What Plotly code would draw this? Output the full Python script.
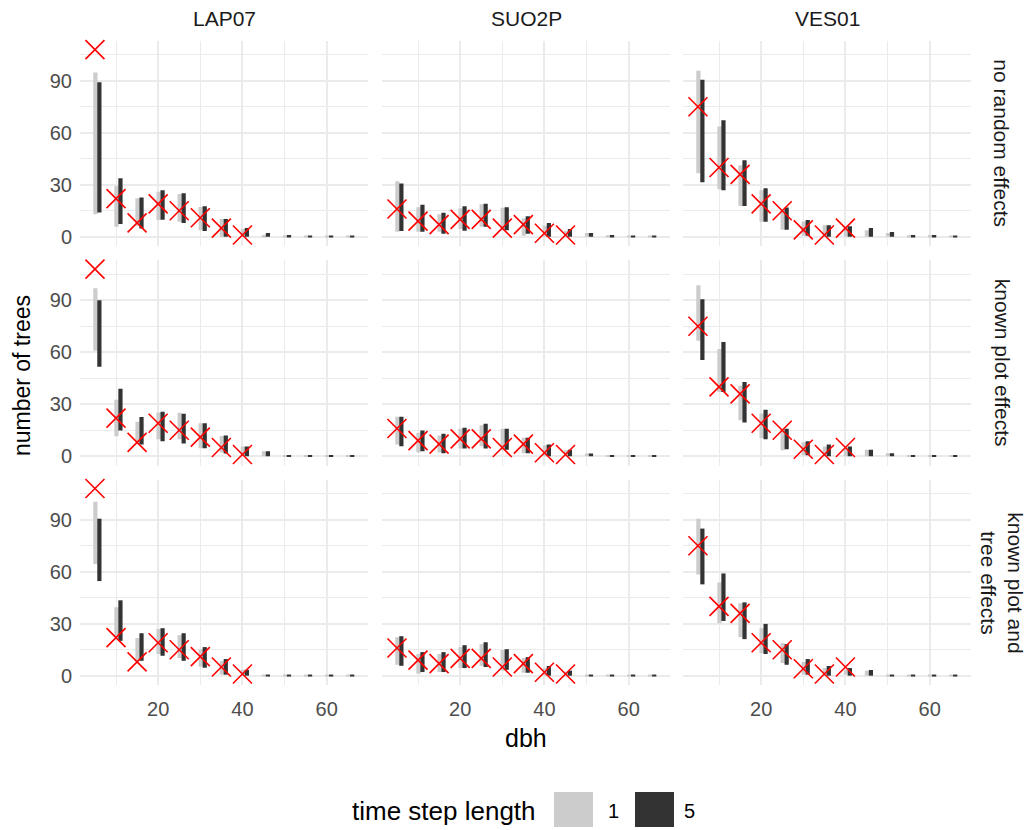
import plotly.graph_objects as go

# ---------------- data ----------------
dbh = [5, 10, 15, 20, 25, 30, 35, 40, 45, 50, 55, 60, 65]
sites = ["LAP07", "SUO2P", "VES01"]
models = ["no random effects", "known plot effects", "known plot and<br>tree effects"]
ts_labels = ["1", "5"]

obs_LAP07 = [108, 22, 8, 19, 15, 11, 5, 1]
obs_SUO2P = [16, 9, 7, 10, 10, 5, 7, 2, 1]
obs_VES01 = [75, 40, 36, 19, 15, 4, 1, 5]

# no random effects
LAP07_none_ts1_hi = [94.8, 29.3, 22.2, 25.9, 24.7, 17.2, 10.2, 4.4, 1.0, 0.6, 0.3, 0.3, 0.3]
LAP07_none_ts1_lo = [13.0, 5.7, 6.3, 9.6, 8.6, 3.8, 0, 0, 0, 0, 0, 0, 0]
LAP07_none_ts5_hi = [89.1, 33.7, 22.6, 26.8, 25.1, 17.6, 10.2, 5.0, 2.1, 1.0, 0.3, 0.2, 0.2]
LAP07_none_ts5_lo = [14.0, 7.3, 4.8, 9.8, 7.9, 3.3, 0, 0, 0, 0, 0, 0, 0]

SUO2P_none_ts1_hi = [32.0, 17.0, 13.0, 16.5, 18.8, 16.7, 10.7, 6.3, 3.4, 2.1, 0.8, 0.3, 0.3]
SUO2P_none_ts1_lo = [2.9, 2.9, 2.9, 4.4, 5.7, 3.8, 0.6, 0, 0, 0, 0, 0, 0]
SUO2P_none_ts5_hi = [30.8, 18.4, 13.8, 17.6, 19.0, 17.0, 11.9, 7.9, 4.4, 2.1, 1.0, 0.2, 0.2]
SUO2P_none_ts5_lo = [3.3, 2.9, 1.7, 3.4, 5.7, 3.8, 1.7, 0, 0, 0, 0, 0, 0]

VES01_none_ts1_hi = [95.8, 63.6, 41.2, 26.8, 16.0, 8.8, 6.7, 6.0, 3.8, 2.1, 0.8, 1.0, 0.3]
VES01_none_ts1_lo = [36.6, 27.4, 17.8, 8.6, 4.0, 0.6, 0, 0, 0, 0, 0, 0, 0]
VES01_none_ts5_hi = [90.6, 67.2, 44.1, 28.0, 16.9, 9.6, 6.7, 6.1, 5.0, 2.7, 1.0, 1.0, 0.2]
VES01_none_ts5_lo = [31.4, 26.8, 17.8, 8.6, 4.0, 0.6, 0, 0, 0, 0, 0, 0, 0]

# known plot effects
LAP07_plot_ts1_hi = [96.9, 32.6, 19.9, 25.3, 25.1, 19.0, 11.7, 5.6, 2.9, 0.6, 0.6, 0.3, 0.6]
LAP07_plot_ts1_lo = [60.9, 11.5, 7.7, 9.8, 9.8, 4.6, 2.1, 0, 0, 0, 0, 0, 0]
LAP07_plot_ts5_hi = [90.0, 38.9, 22.6, 25.7, 24.5, 19.0, 11.9, 5.6, 2.9, 0.6, 0.6, 0.2, 0.6]
LAP07_plot_ts5_lo = [51.7, 14.9, 6.7, 8.6, 7.3, 4.6, 1.5, 0, 0, 0, 0, 0, 0]

SUO2P_plot_ts1_hi = [22.8, 13.6, 11.9, 15.9, 17.8, 15.9, 10.7, 6.3, 3.4, 1.5, 0.4, 0.3, 0.3]
SUO2P_plot_ts1_lo = [6.7, 2.1, 2.1, 4.4, 5.7, 3.4, 1.7, 0, 0, 0, 0, 0, 0]
SUO2P_plot_ts5_hi = [22.8, 14.8, 13.0, 16.5, 18.8, 15.9, 10.7, 6.7, 3.8, 1.5, 0.6, 0.2, 0.2]
SUO2P_plot_ts5_lo = [5.7, 2.9, 1.7, 4.4, 4.4, 3.8, 1.7, 0, 0, 0, 0, 0, 0]

VES01_plot_ts1_hi = [98.7, 61.9, 40.6, 24.7, 15.9, 8.0, 5.6, 4.4, 3.8, 1.7, 0.6, 0.3, 0.3]
VES01_plot_ts1_lo = [66.7, 37.0, 20.7, 10.5, 3.4, 0.6, 0, 0, 0, 0, 0, 0, 0]
VES01_plot_ts5_hi = [90.6, 65.9, 42.9, 26.8, 15.9, 8.6, 6.7, 5.6, 3.8, 1.7, 0.6, 0.2, 0.2]
VES01_plot_ts5_lo = [55.6, 37.0, 19.5, 9.8, 4.0, 0.6, 0, 0, 0, 0, 0, 0, 0]

# known plot and tree effects
LAP07_tree_ts1_hi = [100.4, 39.5, 21.7, 27.0, 23.4, 15.3, 8.4, 3.4, 0.4, 0.2, 0.2, 0.2, 0.2]
LAP07_tree_ts1_lo = [64.4, 22.6, 8.6, 12.5, 10.2, 5.2, 0.6, 0, 0, 0, 0, 0, 0]
LAP07_tree_ts5_hi = [90.6, 43.5, 24.5, 27.4, 24.5, 16.5, 9.6, 3.4, 0.6, 0.2, 0.2, 0.2, 0.2]
LAP07_tree_ts5_lo = [54.6, 20.1, 8.6, 11.5, 8.6, 4.6, 0.6, 0, 0, 0, 0, 0, 0]

SUO2P_tree_ts1_hi = [22.2, 12.5, 12.5, 16.5, 18.2, 14.8, 10.2, 4.4, 2.3, 0.3, 0.2, 0.2, 0.2]
SUO2P_tree_ts1_lo = [6.3, 1.1, 2.1, 4.4, 5.7, 2.9, 1.7, 0, 0, 0, 0, 0, 0]
SUO2P_tree_ts5_hi = [22.8, 13.6, 13.6, 17.6, 19.3, 15.3, 10.7, 5.6, 2.9, 0.6, 0.2, 0.2, 0.2]
SUO2P_tree_ts5_lo = [5.7, 2.1, 2.1, 4.4, 5.0, 3.4, 1.7, 0, 0, 0, 0, 0, 0]

VES01_tree_ts1_hi = [90.6, 53.8, 41.8, 27.4, 18.8, 7.9, 4.4, 3.4, 2.9, 0.3, 0.2, 0.2, 0.2]
VES01_tree_ts1_lo = [58.4, 30.3, 22.2, 13.0, 7.3, 0.6, 0, 0.6, 0, 0, 0, 0, 0]
VES01_tree_ts5_hi = [84.9, 59.0, 42.3, 29.9, 18.2, 9.6, 5.6, 4.4, 3.3, 0.6, 0.2, 0.2, 0.2]
VES01_tree_ts5_lo = [52.7, 31.6, 21.1, 12.5, 6.3, 0.6, 0, 0, 0, 0, 0, 0, 0]

y_ticks = [0, 30, 60, 90]
x_ticks = [20, 40, 60]

# ---------------- assembly ----------------
observed = {"LAP07": obs_LAP07, "SUO2P": obs_SUO2P, "VES01": obs_VES01}
ranges = {
    ("LAP07", 0): (LAP07_none_ts1_lo, LAP07_none_ts1_hi, LAP07_none_ts5_lo, LAP07_none_ts5_hi),
    ("SUO2P", 0): (SUO2P_none_ts1_lo, SUO2P_none_ts1_hi, SUO2P_none_ts5_lo, SUO2P_none_ts5_hi),
    ("VES01", 0): (VES01_none_ts1_lo, VES01_none_ts1_hi, VES01_none_ts5_lo, VES01_none_ts5_hi),
    ("LAP07", 1): (LAP07_plot_ts1_lo, LAP07_plot_ts1_hi, LAP07_plot_ts5_lo, LAP07_plot_ts5_hi),
    ("SUO2P", 1): (SUO2P_plot_ts1_lo, SUO2P_plot_ts1_hi, SUO2P_plot_ts5_lo, SUO2P_plot_ts5_hi),
    ("VES01", 1): (VES01_plot_ts1_lo, VES01_plot_ts1_hi, VES01_plot_ts5_lo, VES01_plot_ts5_hi),
    ("LAP07", 2): (LAP07_tree_ts1_lo, LAP07_tree_ts1_hi, LAP07_tree_ts5_lo, LAP07_tree_ts5_hi),
    ("SUO2P", 2): (SUO2P_tree_ts1_lo, SUO2P_tree_ts1_hi, SUO2P_tree_ts5_lo, SUO2P_tree_ts5_hi),
    ("VES01", 2): (VES01_tree_ts1_lo, VES01_tree_ts1_hi, VES01_tree_ts5_lo, VES01_tree_ts5_hi),
}

W, H = 1026, 830
LIGHT, DARK = "#CCCCCC", "#333333"
GRID = "#EBEBEB"
FONT = "Liberation Sans, Arial, sans-serif"
CLEAR = "rgba(0,0,0,0)"

col_px = [(80, 368), (382, 670), (683, 971)]
row_px = [(40.7, 246.7), (260.7, 466.7), (480.7, 686.7)]


def px_x(p):
    return p / W


def px_y(p):
    return 1 - p / H


fig = go.Figure()
layout_axes = {}

for r in range(3):
    for c, site in enumerate(sites):
        i = r * 3 + c + 1
        xa = "x" if i == 1 else f"x{i}"
        ya = "y" if i == 1 else f"y{i}"
        lo1, hi1, lo5, hi5 = ranges[(site, r)]
        fig.add_trace(go.Bar(
            x=[d + 0.1 for d in dbh], base=lo1,
            y=[h - l for h, l in zip(hi1, lo1)],
            width=1.0, marker=dict(color=LIGHT, line=dict(width=0)),
            xaxis=xa, yaxis=ya, showlegend=False, name=ts_labels[0]))
        fig.add_trace(go.Bar(
            x=[d + 1.05 for d in dbh], base=lo5,
            y=[h - l for h, l in zip(hi5, lo5)],
            width=1.0, marker=dict(color=DARK, line=dict(width=0)),
            xaxis=xa, yaxis=ya, showlegend=False, name=ts_labels[1]))
        obs = observed[site]
        fig.add_trace(go.Scatter(
            x=dbh[:len(obs)], y=obs, mode="markers",
            marker=dict(symbol="x-thin", size=19, color="red",
                        line=dict(color="red", width=1.6)),
            xaxis=xa, yaxis=ya, showlegend=False, cliponaxis=False))

        key_x = "xaxis" if i == 1 else f"xaxis{i}"
        key_y = "yaxis" if i == 1 else f"yaxis{i}"
        layout_axes[key_x] = dict(
            domain=[px_x(col_px[c][0]), px_x(col_px[c][1])],
            anchor=ya, range=[1.45, 69.8],
            tickvals=x_ticks, ticktext=[str(v) for v in x_ticks],
            showticklabels=(r == 2), ticks="outside", ticklen=6, tickcolor=CLEAR,
            showgrid=True, gridcolor=GRID, gridwidth=1.6, zeroline=False,
            showline=False,
            minor=dict(tickvals=[10, 30, 50], showgrid=True, gridcolor=GRID,
                       gridwidth=0.8, ticks=""),
            tickfont=dict(family=FONT, size=20, color="#4D4D4D"))
        layout_axes[key_y] = dict(
            domain=[px_y(row_px[r][1]), px_y(row_px[r][0])],
            anchor=xa, range=[-5.4, 113.2],
            tickvals=y_ticks, ticktext=[str(v) for v in y_ticks],
            showticklabels=(c == 0), ticks="outside", ticklen=3, tickcolor=CLEAR,
            showgrid=True, gridcolor=GRID, gridwidth=1.6, zeroline=False,
            showline=False,
            minor=dict(tickvals=[15, 45, 75, 105], showgrid=True, gridcolor=GRID,
                       gridwidth=0.8, ticks=""),
            tickfont=dict(family=FONT, size=20, color="#4D4D4D"))

annotations = []
# column strips
for c, site in enumerate(sites):
    annotations.append(dict(
        text=site, xref="paper", yref="paper",
        x=px_x((col_px[c][0] + col_px[c][1]) / 2), y=px_y(19),
        xanchor="center", yanchor="middle", showarrow=False,
        font=dict(family=FONT, size=21, color="#1A1A1A")))
# row strips
for r, m in enumerate(models):
    annotations.append(dict(
        text=m, xref="paper", yref="paper",
        x=px_x(1002), y=px_y((row_px[r][0] + row_px[r][1]) / 2),
        xanchor="center", yanchor="middle", showarrow=False, textangle=90,
        font=dict(family=FONT, size=21, color="#1A1A1A")))
# axis titles
annotations.append(dict(
    text="number of trees", xref="paper", yref="paper",
    x=px_x(22), y=px_y(377), xanchor="center", yanchor="middle",
    showarrow=False, textangle=-90,
    font=dict(family=FONT, size=23, color="black")))
annotations.append(dict(
    text="dbh", xref="paper", yref="paper",
    x=px_x(525.5), y=px_y(740), xanchor="center", yanchor="middle",
    showarrow=False, font=dict(family=FONT, size=25, color="black")))
# legend
annotations.append(dict(
    text="time step length", xref="paper", yref="paper",
    x=px_x(538), y=px_y(813), xanchor="right", yanchor="middle",
    showarrow=False, font=dict(family=FONT, size=26, color="black")))
annotations.append(dict(
    text=ts_labels[0], xref="paper", yref="paper",
    x=px_x(613), y=px_y(813), xanchor="center", yanchor="middle",
    showarrow=False, font=dict(family=FONT, size=20, color="black")))
annotations.append(dict(
    text=ts_labels[1], xref="paper", yref="paper",
    x=px_x(689), y=px_y(813), xanchor="center", yanchor="middle",
    showarrow=False, font=dict(family=FONT, size=20, color="black")))

shapes = [
    dict(type="rect", xref="paper", yref="paper",
         x0=px_x(554), x1=px_x(593), y0=px_y(829), y1=px_y(794),
         fillcolor=LIGHT, line=dict(width=0)),
    dict(type="rect", xref="paper", yref="paper",
         x0=px_x(635), x1=px_x(674), y0=px_y(829), y1=px_y(794),
         fillcolor=DARK, line=dict(width=0)),
]

fig.update_layout(
    width=W, height=H,
    margin=dict(l=0, r=0, t=0, b=0),
    paper_bgcolor="white", plot_bgcolor="white",
    barmode="overlay", showlegend=False,
    annotations=annotations, shapes=shapes,
    font=dict(family=FONT),
    **layout_axes)

fig.write_html("out.html")
